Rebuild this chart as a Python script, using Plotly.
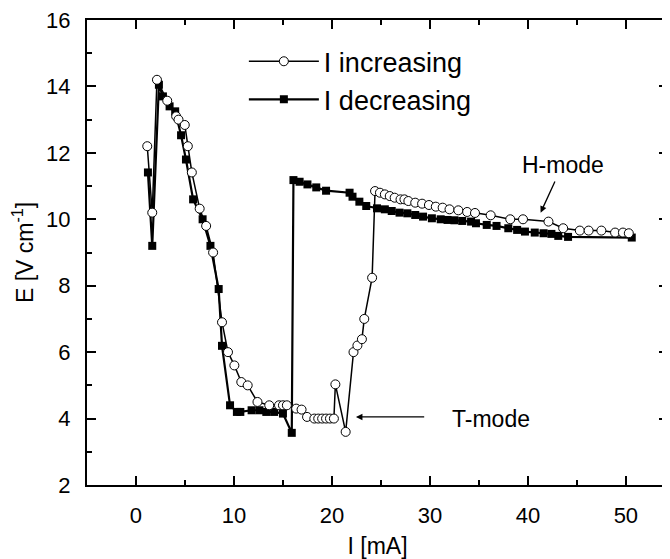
import plotly.graph_objects as go

# I increasing
inc_I = [1.15, 1.66, 2.14, 3.19, 4.1, 4.34, 4.98, 5.29, 5.7, 6.5, 7.16, 7.87, 8.78, 9.39, 10.04,
         10.75, 11.4, 12.4, 13.6, 14.6, 15.0, 15.4, 16.35, 16.9, 17.46, 18.2, 18.6, 19.0, 19.4, 19.8,
         20.2, 20.35, 21.4, 22.2, 22.6, 23.06, 23.3, 24.1, 24.4, 24.9, 25.4, 25.9, 26.4, 27.0, 27.4,
         27.8, 28.5, 29.2, 29.9, 30.6, 31.3, 32.0, 32.9, 33.8, 34.6, 36.2, 38.2, 39.5, 42.1, 43.6,
         45.3, 46.2, 47.5, 48.9, 49.7, 50.3]
inc_E = [12.2, 10.2, 14.2, 13.57, 13.1, 13.0, 12.84, 12.2, 11.41, 10.32, 9.8, 9.0, 6.9, 6.0, 5.6,
         5.1, 5.0, 4.5, 4.4, 4.4, 4.4, 4.4, 4.3, 4.27, 4.05, 4.0, 4.0, 4.0, 4.0, 4.0,
         4.0, 5.03, 3.6, 6.0, 6.2, 6.39, 7.0, 8.24, 10.85, 10.8, 10.75, 10.7, 10.65, 10.6, 10.6,
         10.55, 10.5, 10.47, 10.43, 10.38, 10.35, 10.3, 10.27, 10.22, 10.19, 10.12, 10.0, 10.0, 9.93, 9.73,
         9.66, 9.66, 9.66, 9.6, 9.6, 9.58]

# I decreasing (in measurement order)
dec_I = [50.6, 44.1, 43.1, 42.4, 41.6, 40.7, 39.7, 38.9, 38.0, 36.8, 35.8, 34.7, 34.2, 33.3, 32.5,
         31.8, 31.1, 30.2, 29.3, 28.5, 27.7, 26.9, 26.1, 25.4, 24.6, 23.5, 22.8, 22.1, 21.8, 19.4,
         18.4, 17.5, 16.7, 16.07, 15.9, 15.0, 14.1, 13.3, 12.6, 11.8, 10.65, 10.3, 9.6, 8.78, 8.44,
         7.6, 6.8, 5.83, 5.1, 4.6, 4.0, 3.43, 2.75, 2.34, 1.66, 1.22]
dec_E = [9.45, 9.47, 9.5, 9.56, 9.58, 9.6, 9.63, 9.68, 9.73, 9.8, 9.83, 9.88, 9.93, 9.95, 9.97,
         9.98, 10.0, 10.03, 10.08, 10.13, 10.18, 10.2, 10.25, 10.3, 10.33, 10.4, 10.53, 10.68, 10.8, 10.86,
         10.96, 11.05, 11.13, 11.18, 3.57, 4.15, 4.2, 4.2, 4.25, 4.25, 4.2, 4.2, 4.4, 6.19, 7.9,
         9.2, 10.0, 10.6, 11.8, 12.53, 13.25, 13.4, 13.7, 14.05, 9.2, 11.41]

series_names = ["I increasing", "I decreasing"]
x_title = "I [mA]"
y_title = "E [V cm<sup>-1</sup>]"

FONT = "Liberation Sans, Arial, Helvetica, sans-serif"

fig = go.Figure()
fig.add_trace(go.Scatter(
    x=dec_I, y=dec_E, mode="lines+markers", name=series_names[1],
    line=dict(color="black", width=2.2),
    marker=dict(symbol="square", size=8, color="black", line=dict(color="black", width=0)),
))
fig.add_trace(go.Scatter(
    x=inc_I, y=inc_E, mode="lines+markers", name=series_names[0],
    line=dict(color="black", width=1.5),
    marker=dict(symbol="circle", size=9, color="white", line=dict(color="black", width=1)),
))

axis_common = dict(
    showline=True, linecolor="black", linewidth=2, mirror="ticks",
    ticks="inside", tickcolor="black", tickwidth=2, ticklen=9,
    showgrid=False, zeroline=False,
    tickfont=dict(family=FONT, size=22, color="black"),
    ticklabelstandoff=10, ticklabeloverflow="allow",
)

fig.update_xaxes(
    range=[-5, 54.3], dtick=10, tick0=0,
    minor=dict(dtick=5, ticks="inside", ticklen=5, tickcolor="black", tickwidth=2),
    title=dict(text=x_title, font=dict(family=FONT, size=23, color="black"), standoff=10),
    **axis_common,
)
fig.update_yaxes(
    range=[2, 16], dtick=2, tick0=0,
    minor=dict(dtick=1, ticks="inside", ticklen=5, tickcolor="black", tickwidth=2),
    title=dict(text=y_title, font=dict(family=FONT, size=23, color="black"), standoff=10),
    **axis_common,
)

fig.add_annotation(x=43.6, y=11.63, text="H-mode", showarrow=False,
                   font=dict(family=FONT, size=23, color="black"))
fig.add_annotation(x=41.3, y=10.2, ax=42.83, ay=11.18, axref="x", ayref="y", xref="x", yref="y",
                   text="", showarrow=True, arrowhead=2, arrowsize=1, arrowwidth=1.3,
                   arrowcolor="black", standoff=0)
fig.add_annotation(x=36.2, y=4.0, text="T-mode", showarrow=False,
                   font=dict(family=FONT, size=23, color="black"))
fig.add_annotation(x=22.45, y=4.05, ax=29.57, ay=4.05, axref="x", ayref="y", xref="x", yref="y",
                   text="", showarrow=True, arrowhead=2, arrowsize=1, arrowwidth=1.3,
                   arrowcolor="black", standoff=0)

# The page body adds an 8px offset, so the figure is sized to end at the window edge.
fig.update_layout(
    width=662, height=551,
    margin=dict(l=79, r=0, t=12, b=74),
    paper_bgcolor="white", plot_bgcolor="white",
    font=dict(family=FONT, color="black"),
    legend=dict(x=0.27, y=0.963, xanchor="left", yanchor="top", traceorder="reversed",
                bgcolor="rgba(0,0,0,0)", itemwidth=70,
                font=dict(family=FONT, size=27, color="black")),
)

fig.write_html("out.html")
